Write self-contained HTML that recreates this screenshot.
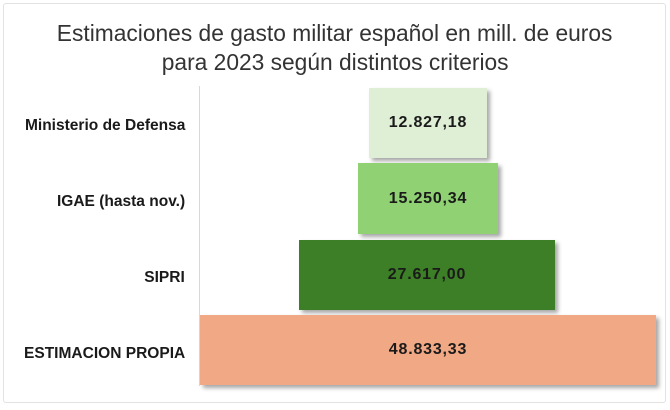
<!DOCTYPE html>
<html><head><meta charset="utf-8"><style>
body{margin:0;background:#fff;width:670px;height:410px;overflow:hidden;position:relative;font-family:"Liberation Sans",sans-serif}
.frame{position:absolute;left:3px;top:3px;width:661px;height:398px;border:1px solid #e2e2e2;border-radius:3px}
.t{position:absolute;left:0;width:670px;text-align:center;font-size:23px;color:#333;white-space:nowrap}
.t span{display:inline-block;transform:scaleX(0.99)}
.ax{position:absolute;left:199px;top:86px;width:1px;height:300px;background:#d8d8d8}
.bar{position:absolute;display:flex;align-items:center;justify-content:center;font-weight:bold;font-size:16px;letter-spacing:0.8px;color:#1a1a1a;box-shadow:3px 3px 4px rgba(0,0,0,.35)}
.lb{position:absolute;right:485px;font-weight:bold;font-size:16px;color:#1a1a1a;white-space:nowrap;transform:translateY(-50%) scaleX(0.97);transform-origin:right center}
</style></head><body>
<div class="frame"></div>
<div class="t" style="top:20px"><span>Estimaciones de gasto militar español en mill. de euros</span></div>
<div class="t" style="top:49px"><span>para 2023 según distintos criterios</span></div>
<div class="ax"></div>
<div class="lb" style="top:126px">Ministerio de Defensa</div>
<div class="lb" style="top:202px">IGAE (hasta nov.)</div>
<div class="lb" style="top:278px">SIPRI</div>
<div class="lb" style="top:354px">ESTIMACION PROPIA</div>
<div class="bar" style="left:369px;top:88px;width:118px;height:70px;background:#dfefd6">12.827,18</div>
<div class="bar" style="left:358px;top:163px;width:140px;height:71px;background:#8fd173">15.250,34</div>
<div class="bar" style="left:299px;top:240px;width:256px;height:70px;background:#3d7f26">27.617,00</div>
<div class="bar" style="left:200px;top:315px;width:456px;height:70px;background:#f1a885">48.833,33</div>
</body></html>
